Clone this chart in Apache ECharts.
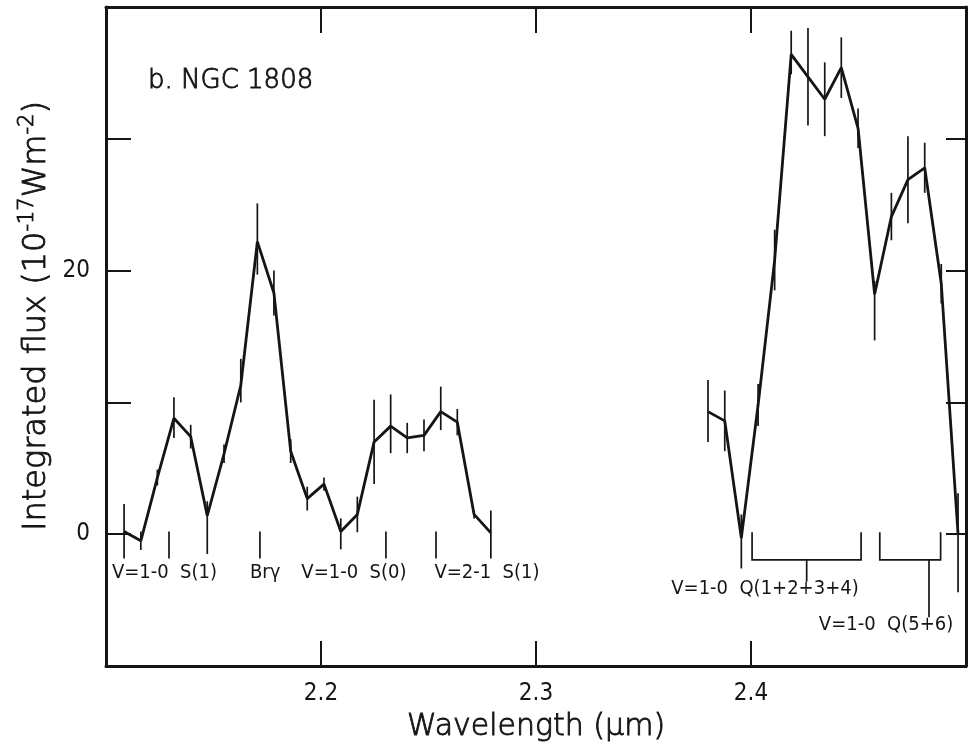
<!DOCTYPE html>
<html>
<head>
<meta charset="utf-8">
<title>NGC 1808 K-band spectrum</title>
<script src="https://cdn.jsdelivr.net/npm/echarts@6/dist/echarts.min.js"></script>
<style>
  html, body { margin: 0; padding: 0; background: #ffffff; }
  #chart { width: 969px; height: 754px; }
</style>
</head>
<body>
<div id="chart"></div>
<script>
// NGC 1808: integrated line flux (10^-17 W m^-2) across two K-band windows.

// Short-wavelength window (micron)
const leftWave = [2.1084, 2.1162, 2.1239, 2.1316, 2.1394, 2.1471, 2.1549, 2.1627,
                  2.1704, 2.1781, 2.1859, 2.1936, 2.2014, 2.2092, 2.2169, 2.2247,
                  2.2324, 2.2401, 2.2479, 2.2557, 2.2634, 2.2712, 2.2790];
const leftFlux = [0.2, -0.5, 4.3, 8.8, 7.4, 1.4, 6.1, 11.3,
                  22.2, 18.3, 6.3, 2.7, 3.8, 0.2, 1.5, 7.0,
                  8.2, 7.3, 7.5, 9.3, 8.5, 1.5, 0.1];
const leftErrLow  = [2.05, 0.7, 0.6, 1.5, 0.9, 2.9, 0.7, 1.3,
                     2.5, 1.7, 0.9, 0.9, 0.5, 1.35, 1.35, 3.2,
                     2.05, 1.15, 1.2, 1.4, 1.0, 0.3, 1.95];
const leftErrHigh = [2.1, 0.7, 0.6, 1.6, 0.9, 1.1, 0.7, 2.0,
                     2.9, 1.7, 0.9, 0.9, 0.5, 1.0, 1.35, 3.2,
                     2.4, 1.15, 1.2, 1.9, 1.0, 0.3, 1.7];

// Long-wavelength window (micron)
const rightWave = [2.3800, 2.3878, 2.3955, 2.4033, 2.4110, 2.4187, 2.4265, 2.4343,
                   2.4420, 2.4498, 2.4575, 2.4653, 2.4730, 2.4808, 2.4885, 2.4963];
const rightFlux = [9.3, 8.6, -0.3, 9.8, 20.8, 36.4, 34.7, 33.0,
                   35.4, 30.8, 18.2, 24.1, 26.9, 27.8, 19.0, 0.0];
const rightErrLow  = [2.3, 2.3, 2.3, 1.6, 2.3, 1.5, 3.7, 2.8,
                      2.3, 1.5, 3.5, 1.8, 3.3, 1.9, 1.5, 4.4];
const rightErrHigh = [2.4, 2.3, 1.8, 1.6, 2.3, 1.8, 3.7, 2.8,
                      2.3, 1.5, 1.0, 1.8, 3.3, 1.9, 1.5, 3.1];

// Axis tick labels
const xTickLabels = [2.2, 2.3, 2.4];
const yTickLabels = [0, 20];

// Line identifications
const idMarkWave = [2.1293, 2.1716, 2.2302, 2.2535];
const qBandFrom  = [2.4005, 2.4599];
const qBandTo    = [2.4512, 2.4882];
const qBandStem  = [2.4259, 2.4828];
const qBandStemEnd = [-3.6, -6.3];
const idTexts = ['V=1-0  S(1)', 'Brγ', 'V=1-0  S(0)', 'V=2-1  S(1)',
                 'V=1-0  Q(1+2+3+4)', 'V=1-0  Q(5+6)'];
const idWave = [2.1272, 2.1740, 2.2153, 2.2772, 2.4065, 2.4628];
const idFlux = [-2.9, -2.9, -2.9, -2.9, -4.15, -6.9];

const INK = '#151515';
const FONT = '"DejaVu Sans", sans-serif';
const FONT_NARROW = '"DejaVu Sans Condensed", "DejaVu Sans", sans-serif';
const LIGHT = 200;   // thin face, thickened slightly with a text outline
const HALO = 0.9;

// marker tick span (flux units) and bracket levels
const MARK_TOP = 0.2, MARK_BOTTOM = -1.85;
const BRACKET_TOP = 0.15, BRACKET_BAR = -1.95;

function errorRows(wave, flux, lo, hi) {
  return wave.map((w, i) => [w, flux[i] - lo[i], flux[i] + hi[i]]);
}
const errData = errorRows(leftWave, leftFlux, leftErrLow, leftErrHigh)
  .concat(errorRows(rightWave, rightFlux, rightErrLow, rightErrHigh));

const near = (a, list) => list.some(t => Math.abs(t - a) < 1e-6);

const chart = echarts.init(document.getElementById('chart'), null, { renderer: 'canvas' });

const axisLine = { show: true, onZero: false, lineStyle: { color: INK, width: 3 } };
const tickStyle = { color: INK, width: 2 };

chart.setOption({
  backgroundColor: '#ffffff',
  animation: false,
  grid: { left: 106, right: 2, top: 7, bottom: 88, containLabel: false },
  xAxis: [
    {
      type: 'value', position: 'bottom', min: 2.1, max: 2.5, interval: 0.1,
      axisLine: axisLine,
      axisTick: { show: true, inside: true, length: 25, lineStyle: tickStyle },
      splitLine: { show: false },
      axisLabel: {
        show: true, margin: 16, color: INK, fontFamily: FONT_NARROW, fontSize: 24,
        formatter: v => near(v, xTickLabels) ? v.toFixed(1) : ''
      },
      name: 'Wavelength (μm)', nameLocation: 'middle', nameGap: 46,
      nameTextStyle: { color: INK, fontFamily: FONT, fontSize: 30, fontWeight: LIGHT,
                       textBorderColor: INK, textBorderWidth: HALO }
    },
    {
      type: 'value', position: 'top', min: 2.1, max: 2.5, interval: 0.1,
      axisLine: axisLine,
      axisTick: { show: true, inside: true, length: 26, lineStyle: tickStyle },
      splitLine: { show: false },
      axisLabel: { show: false }
    }
  ],
  yAxis: [
    {
      type: 'value', position: 'left', min: -10, max: 40, interval: 10,
      axisLine: axisLine,
      axisTick: { show: true, inside: true, length: 25, lineStyle: tickStyle },
      splitLine: { show: false },
      axisLabel: {
        show: true, margin: 16, color: INK, fontFamily: FONT_NARROW, fontSize: 24,
        padding: [0, 0, 14, 0],
        formatter: v => near(v, yTickLabels) ? String(Math.round(v)) : ''
      }
    },
    {
      type: 'value', position: 'right', min: -10, max: 40, interval: 10,
      axisLine: axisLine,
      axisTick: { show: true, inside: true, length: 20, lineStyle: tickStyle },
      splitLine: { show: false },
      axisLabel: { show: false }
    }
  ],
  graphic: [
    {
      type: 'text', x: 148, y: 81,
      style: { text: 'b. NGC 1808', fill: INK, font: LIGHT + ' 26px ' + FONT,
               stroke: INK, lineWidth: HALO,
               align: 'left', verticalAlign: 'middle' }
    },
    {
      type: 'text', x: 37, y: 316, rotation: Math.PI / 2,
      style: {
        text: 'Integrated flux (10{s|-17}Wm{s|-2})',
        fill: INK, font: LIGHT + ' 32px ' + FONT, lineHeight: 40,
        stroke: INK, lineWidth: HALO,
        align: 'center', verticalAlign: 'middle',
        rich: { s: { fontFamily: FONT, fontWeight: LIGHT, fontSize: 21, lineHeight: 20,
                     verticalAlign: 'top', fill: INK, stroke: INK, lineWidth: HALO } }
      }
    }
  ],
  series: [
    {
      name: 'flux-short', type: 'line', xAxisIndex: 0, yAxisIndex: 0,
      data: leftWave.map((w, i) => [w, leftFlux[i]]),
      symbol: 'none', lineStyle: { color: INK, width: 2.8 }, z: 4
    },
    {
      name: 'flux-long', type: 'line', xAxisIndex: 0, yAxisIndex: 0,
      data: rightWave.map((w, i) => [w, rightFlux[i]]),
      symbol: 'none', lineStyle: { color: INK, width: 2.8 }, z: 4
    },
    {
      name: 'errors', type: 'custom', xAxisIndex: 0, yAxisIndex: 0,
      data: errData, encode: { x: 0, y: [1, 2] }, z: 3,
      renderItem: (params, api) => {
        const a = api.coord([api.value(0), api.value(1)]);
        const b = api.coord([api.value(0), api.value(2)]);
        return { type: 'line', shape: { x1: a[0], y1: a[1], x2: b[0], y2: b[1] },
                 style: { stroke: INK, lineWidth: 1.7 } };
      }
    },
    {
      name: 'line-marks', type: 'custom', xAxisIndex: 0, yAxisIndex: 0,
      data: idMarkWave.map(w => [w]), encode: { x: 0 }, z: 3,
      renderItem: (params, api) => {
        const a = api.coord([api.value(0), MARK_TOP]);
        const b = api.coord([api.value(0), MARK_BOTTOM]);
        return { type: 'line', shape: { x1: a[0], y1: a[1], x2: b[0], y2: b[1] },
                 style: { stroke: INK, lineWidth: 1.7 } };
      }
    },
    {
      name: 'q-branches', type: 'custom', xAxisIndex: 0, yAxisIndex: 0,
      data: qBandFrom.map((f, i) => [f, qBandTo[i], qBandStem[i], qBandStemEnd[i]]),
      encode: { x: [0, 1] }, z: 3,
      renderItem: (params, api) => {
        const x0 = api.value(0), x1 = api.value(1), xs = api.value(2), ys = api.value(3);
        const p = (x, y) => api.coord([x, y]);
        const tl = p(x0, BRACKET_TOP), bl = p(x0, BRACKET_BAR);
        const tr = p(x1, BRACKET_TOP), br = p(x1, BRACKET_BAR);
        const s0 = p(xs, BRACKET_BAR), s1 = p(xs, ys);
        return {
          type: 'group',
          children: [
            { type: 'polyline', shape: { points: [tl, bl, br, tr] },
              style: { stroke: INK, lineWidth: 1.7, fill: null } },
            { type: 'line', shape: { x1: s0[0], y1: s0[1], x2: s1[0], y2: s1[1] },
              style: { stroke: INK, lineWidth: 1.7 } }
          ]
        };
      }
    },
    {
      name: 'identifications', type: 'custom', xAxisIndex: 0, yAxisIndex: 0,
      data: idTexts.map((t, i) => [idWave[i], idFlux[i], t]), encode: { x: 0, y: 1 }, z: 2,
      renderItem: (params, api) => {
        const c = api.coord([api.value(0), api.value(1)]);
        return { type: 'text', x: c[0], y: c[1],
                 style: { text: idTexts[params.dataIndex], fill: INK,
                          font: '20px ' + FONT_NARROW,
                          align: 'center', verticalAlign: 'middle' } };
      }
    }
  ]
});
</script>
</body>
</html>
